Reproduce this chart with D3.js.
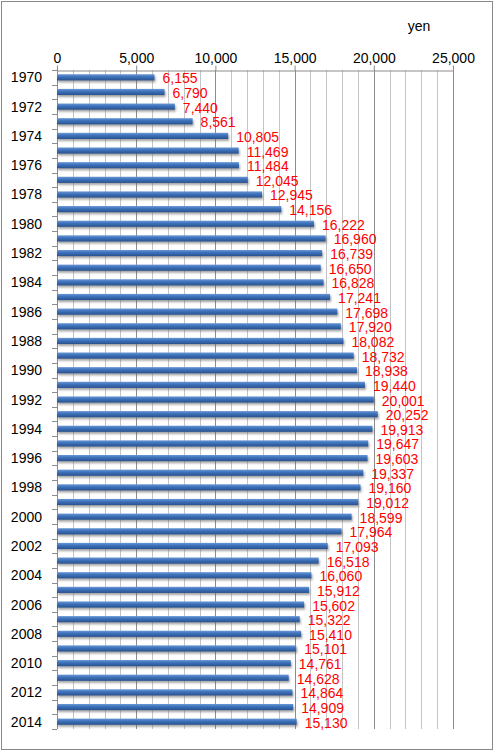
<!DOCTYPE html>
<html>
<head>
<meta charset="utf-8">
<script src="https://cdn.jsdelivr.net/npm/d3@7"></script>
<style>
  html, body { margin: 0; padding: 0; background: #fff; }
  svg { display: block; font-family: "Liberation Sans", Arial, sans-serif; }
</style>
</head>
<body>
<div id="chart"></div>
<script>
"use strict";

/* ── Data ── */
const years = [
  1970, 1971, 1972, 1973, 1974, 1975, 1976, 1977, 1978, 1979,
  1980, 1981, 1982, 1983, 1984, 1985, 1986, 1987, 1988, 1989,
  1990, 1991, 1992, 1993, 1994, 1995, 1996, 1997, 1998, 1999,
  2000, 2001, 2002, 2003, 2004, 2005, 2006, 2007, 2008, 2009,
  2010, 2011, 2012, 2013, 2014
];
const values = [
  6155, 6790, 7440, 8561, 10805, 11469, 11484, 12045, 12945, 14156,
  16222, 16960, 16739, 16650, 16828, 17241, 17698, 17920, 18082, 18732,
  18938, 19440, 20001, 20252, 19913, 19647, 19603, 19337, 19160, 19012,
  18599, 17964, 17093, 16518, 16060, 15912, 15602, 15322, 15410, 15101,
  14761, 14628, 14864, 14909, 15130
];
const xTicks = [0, 5000, 10000, 15000, 20000, 25000];
const unitLabel = "yen";

const rows = years.map((y, i) => ({ year: y, value: values[i] }));

/* ── Dimensions ── */
const W = 494, H = 751;
const plot = { left: 57, right: 453, top: 70, bottom: 729 };

const svg = d3.select("#chart").append("svg")
  .attr("width", W).attr("height", H);

/* ── Outer frame ── */
svg.append("rect")
  .attr("x", 1.5).attr("y", 1.5)
  .attr("width", W - 3).attr("height", H - 3)
  .attr("fill", "#fff").attr("stroke", "#888").attr("stroke-width", 1);

/* ── Scales ── */
const x = d3.scaleLinear().domain([0, 25000]).range([plot.left, plot.right]);
const y = d3.scaleBand().domain(years).range([plot.top, plot.bottom]).paddingInner(0.58).paddingOuter(0.29);
const step = y.step();

/* ── Gridlines (every 1,000) ── */
const grid = d3.range(1000, 25001, 1000);
svg.append("g").selectAll("line")
  .data(grid)
  .join("line")
  .attr("x1", d => Math.round(x(d)) + 0.5).attr("x2", d => Math.round(x(d)) + 0.5)
  .attr("y1", plot.top).attr("y2", plot.bottom)
  .attr("stroke", d => d % 5000 === 0 ? "#8c8c8c" : "#c4c4c4")
  .attr("stroke-width", 1);

/* ── Top axis ── */
svg.append("g")
  .attr("transform", `translate(0,${plot.top + 0.5})`)
  .call(d3.axisTop(x).tickValues(xTicks).tickSize(5).tickSizeOuter(0).tickFormat(d3.format(",")))
  .call(g => {
    g.select(".domain").attr("stroke", "#8c8c8c");
    g.selectAll(".tick line").attr("stroke", "#8c8c8c");
    g.selectAll(".tick text")
      .attr("fill", "#000")
      .attr("font-size", "14px")
      .attr("font-family", "Liberation Sans, Arial, sans-serif")
      .attr("dy", "0.05em");
  });

/* ── Unit label ── */
svg.append("text")
  .attr("x", 419).attr("y", 31)
  .attr("text-anchor", "middle")
  .attr("font-size", "14px")
  .attr("fill", "#000")
  .text(unitLabel);

/* ── Left axis line and category ticks ── */
svg.append("line")
  .attr("x1", plot.left + 0.5).attr("x2", plot.left + 0.5)
  .attr("y1", plot.top).attr("y2", plot.bottom)
  .attr("stroke", "#8c8c8c");

const boundaries = d3.range(years.length + 1).map(i => plot.top + i * step);
svg.append("g").selectAll("line")
  .data(boundaries)
  .join("line")
  .attr("x1", plot.left - 5).attr("x2", plot.left)
  .attr("y1", d => Math.round(d) + 0.5).attr("y2", d => Math.round(d) + 0.5)
  .attr("stroke", "#8c8c8c");

/* ── Year labels (every other year) ── */
svg.append("g").selectAll("text")
  .data(years.filter((d, i) => i % 2 === 0))
  .join("text")
  .attr("x", 42)
  .attr("y", d => y(d) + y.bandwidth() / 2 + 5)
  .attr("text-anchor", "end")
  .attr("font-size", "14px")
  .attr("fill", "#000")
  .text(d => d);

/* ── Bar gradient + shadow ── */
const defs = svg.append("defs");
const grad = defs.append("linearGradient")
  .attr("id", "barGrad").attr("x1", 0).attr("y1", 0).attr("x2", 0).attr("y2", 1);
grad.append("stop").attr("offset", "0%").attr("stop-color", "#6a98d6");
grad.append("stop").attr("offset", "40%").attr("stop-color", "#3f73bc");
grad.append("stop").attr("offset", "100%").attr("stop-color", "#28528f");

const blur = defs.append("filter").attr("id", "barShadow")
  .attr("x", "-5%").attr("y", "-50%").attr("width", "115%").attr("height", "250%");
blur.append("feGaussianBlur").attr("stdDeviation", 1.1);

/* ── Shadows ── */
svg.append("g").selectAll("rect")
  .data(rows)
  .join("rect")
  .attr("x", plot.left + 1)
  .attr("y", d => y(d.year) + 2)
  .attr("width", d => x(d.value) - plot.left)
  .attr("height", y.bandwidth())
  .attr("fill", "#666")
  .attr("opacity", 0.6)
  .attr("filter", "url(#barShadow)");

/* ── Bars ── */
svg.append("g").selectAll("rect")
  .data(rows)
  .join("rect")
  .attr("x", plot.left)
  .attr("y", d => y(d.year))
  .attr("width", d => x(d.value) - plot.left)
  .attr("height", y.bandwidth())
  .attr("fill", "url(#barGrad)");

/* ── Value labels ── */
svg.append("g").selectAll("text")
  .data(rows)
  .join("text")
  .attr("x", d => x(d.value) + 8)
  .attr("y", d => y(d.year) + y.bandwidth() / 2 + 6)
  .attr("font-size", "14px")
  .attr("fill", "#ff0000")
  .text(d => d3.format(",")(d.value));
</script>
</body>
</html>
